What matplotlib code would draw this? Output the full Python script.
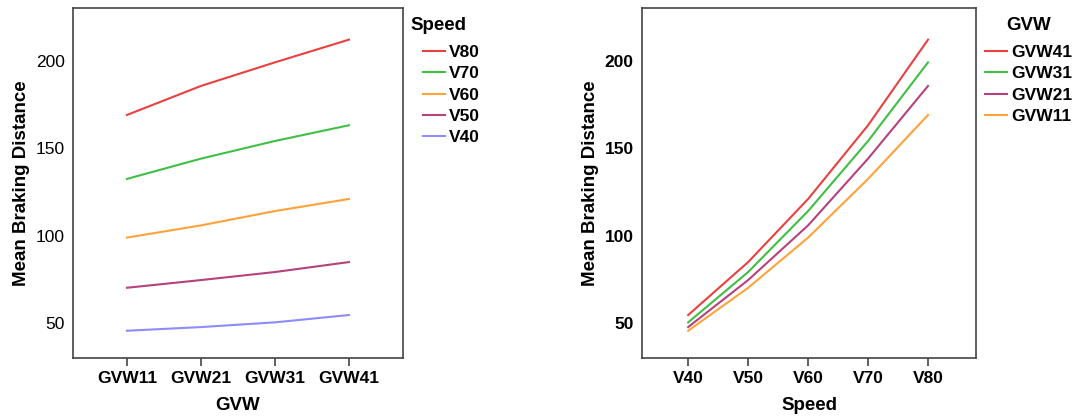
import numpy as np
import matplotlib
matplotlib.use("Agg")
import matplotlib.pyplot as plt

plt.rcParams['font.family'] = ['Liberation Sans', 'DejaVu Sans']

gvw = ["GVW11", "GVW21", "GVW31", "GVW41"]
speed = ["V40", "V50", "V60", "V70", "V80"]

# mean braking distance, rows = speed (V40..V80), cols = GVW (11..41)
v40 = [45.6, 47.7, 50.4, 54.6]
v50 = [70.2, 74.6, 79.2, 84.9]
v60 = [98.9, 105.9, 114.1, 121.0]
v70 = [132.5, 144.1, 154.2, 163.2]
v80 = [169.1, 185.7, 199.2, 212.2]
data = np.array([v40, v50, v60, v70, v80])

speed_colors = {"V80": "#e8413f", "V70": "#3fbf45", "V60": "#ffa23a",
                "V50": "#b5417d", "V40": "#8c8cff"}
gvw_colors = {"GVW41": "#e8413f", "GVW31": "#3fbf45", "GVW21": "#b5417d",
              "GVW11": "#ffa23a"}

W, H = 1072, 419
fig = plt.figure(figsize=(W / 100, H / 100), dpi=100)
ax1 = fig.add_axes([73 / W, 61 / H, 330 / W, 350 / H])
ax2 = fig.add_axes([642 / W, 61 / H, 334 / W, 350 / H])

# left: x = GVW, one line per speed
for name in ["V80", "V70", "V60", "V50", "V40"]:
    i = speed.index(name)
    ax1.plot(range(len(gvw)), data[i], color=speed_colors[name], lw=1.5, label=name)

# right: x = Speed, one line per GVW
for name in ["GVW41", "GVW31", "GVW21", "GVW11"]:
    j = gvw.index(name)
    ax2.plot(range(len(speed)), data[:, j], color=gvw_colors[name], lw=1.5, label=name)

ax1.set_xlim(-0.73, 3.73)
ax2.set_xlim(-0.77, 4.8)
for ax in (ax1, ax2):
    ax.set_ylim(30, 230.3)
    ax.set_yticks([50, 100, 150, 200])
    for s in ax.spines.values():
        s.set_color("#444444")
        s.set_linewidth(1.2)
    ax.tick_params(axis="y", length=0, pad=6, labelsize=12.5)
    ax.tick_params(axis="x", length=6, width=1.2, color="#444444", pad=3, labelsize=12.5)
    ax.set_ylabel("Mean Braking Distance", fontsize=13.5, fontweight="bold", labelpad=4)

ax1.set_xticks(range(len(gvw)))
ax1.set_xticklabels(gvw, fontweight="bold")
ax1.set_xlabel("GVW", fontsize=13.5, fontweight="bold", labelpad=8)
ax2.set_xticks(range(len(speed)))
ax2.set_xticklabels(speed, fontweight="bold")
for t in ax2.get_yticklabels():
    t.set_fontweight("bold")
ax2.set_xlabel("Speed", fontsize=13.5, fontweight="bold", labelpad=8)

# legend titles placed as text, entries as legends without frame
fig.text(410 / W, 1 - 25 / H, "Speed", fontsize=13.5, fontweight="bold", va="center", ha="left")
fig.text(1006 / W, 1 - 25 / H, "GVW", fontsize=13.5, fontweight="bold", va="center", ha="left")

leg_kw = dict(loc="upper left", bbox_transform=fig.transFigure, frameon=False,
              prop={"weight": "bold", "size": 12.5}, handlelength=1.25,
              handletextpad=0.25, labelspacing=0.35, borderaxespad=0, borderpad=0)
ax1.legend(bbox_to_anchor=(423 / W, 1 - 45 / H), **leg_kw)
ax2.legend(bbox_to_anchor=(985 / W, 1 - 45 / H), **leg_kw)

fig.savefig("out.png", dpi=100)
